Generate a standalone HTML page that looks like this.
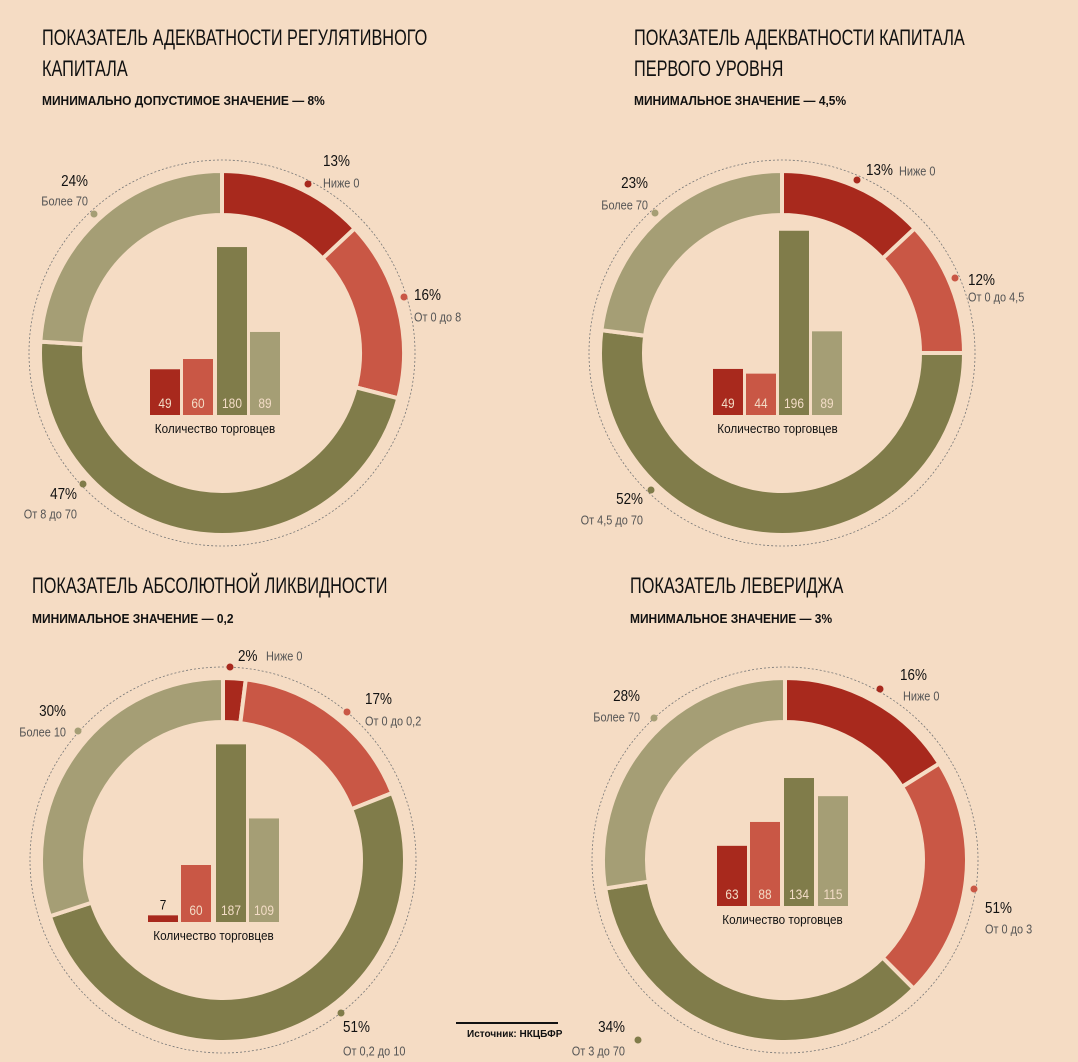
<!DOCTYPE html>
<html><head><meta charset="utf-8"><style>
html,body{margin:0;padding:0;background:#f5dcc4;}
svg{display:block;font-family:"Liberation Sans Narrow","Liberation Sans",sans-serif;}
.t{font-size:22px;font-weight:normal;fill:#111;}
.s{font-size:13px;font-weight:bold;fill:#111;}
.p{font-size:16px;fill:#111;}
.l{font-size:13px;fill:#555;}
.v{font-size:14px;fill:#f3dcc6;text-anchor:middle;}
.k{font-size:13px;fill:#111;text-anchor:middle;}
</style></head><body>
<svg id="svg" width="1078" height="1062" viewBox="0 0 1078 1062" xmlns="http://www.w3.org/2000/svg">
<rect width="1078" height="1062" fill="#f5dcc4"/>
<g id="rings"></g>
<text class="t" x="42" y="45">ПОКАЗАТЕЛЬ АДЕКВАТНОСТИ РЕГУЛЯТИВНОГО</text>
<text class="t" x="42" y="76">КАПИТАЛА</text>
<text class="s" x="42" y="105">МИНИМАЛЬНО ДОПУСТИМОЕ ЗНАЧЕНИЕ —  8%</text>
<text class="t" x="634" y="45">ПОКАЗАТЕЛЬ АДЕКВАТНОСТИ КАПИТАЛА</text>
<text class="t" x="634" y="76">ПЕРВОГО УРОВНЯ</text>
<text class="s" x="634" y="105">МИНИМАЛЬНОЕ ЗНАЧЕНИЕ — 4,5%</text>
<text class="t" x="32" y="593">ПОКАЗАТЕЛЬ АБСОЛЮТНОЙ ЛИКВИДНОСТИ</text>
<text class="s" x="32" y="623">МИНИМАЛЬНОЕ ЗНАЧЕНИЕ — 0,2</text>
<text class="t" x="630" y="593">ПОКАЗАТЕЛЬ ЛЕВЕРИДЖА</text>
<text class="s" x="630" y="623">МИНИМАЛЬНОЕ ЗНАЧЕНИЕ — 3%</text>

<g dominant-baseline="middle">
<text class="p" x="323" y="162">13%</text><text class="l" x="323" y="184">Ниже 0</text>
<text class="p" x="414" y="296">16%</text><text class="l" x="414" y="318">От 0 до 8</text>
<text class="p" x="88" y="182" text-anchor="end">24%</text><text class="l" x="88" y="202" text-anchor="end">Более 70</text>
<text class="p" x="77" y="495" text-anchor="end">47%</text><text class="l" x="77" y="515" text-anchor="end">От 8 до 70</text>

<text class="p" x="866" y="171">13%</text><text class="l" x="899" y="172">Ниже 0</text>
<text class="p" x="968" y="281">12%</text><text class="l" x="968" y="298">От 0 до 4,5</text>
<text class="p" x="648" y="184" text-anchor="end">23%</text><text class="l" x="648" y="206" text-anchor="end">Более 70</text>
<text class="p" x="643" y="500" text-anchor="end">52%</text><text class="l" x="643" y="521" text-anchor="end">От 4,5 до 70</text>

<text class="p" x="238" y="657">2%</text><text class="l" x="266" y="657">Ниже 0</text>
<text class="p" x="365" y="700">17%</text><text class="l" x="365" y="722">От 0 до 0,2</text>
<text class="p" x="66" y="712" text-anchor="end">30%</text><text class="l" x="66" y="733" text-anchor="end">Более 10</text>
<text class="p" x="343" y="1028">51%</text><text class="l" x="343" y="1052">От 0,2 до 10</text>

<text class="p" x="900" y="676">16%</text><text class="l" x="903" y="697">Ниже 0</text>
<text class="p" x="985" y="909">51%</text><text class="l" x="985" y="930">От 0 до 3</text>
<text class="p" x="640" y="697" text-anchor="end">28%</text><text class="l" x="640" y="718" text-anchor="end">Более 70</text>
<text class="p" x="625" y="1028" text-anchor="end">34%</text><text class="l" x="625" y="1052" text-anchor="end">От 3 до 70</text>
</g>
<g id="bars"></g>
<line x1="456" y1="1023" x2="558" y2="1023" stroke="#111" stroke-width="2"/>
<text class="src" x="467" y="1037" style="font-size:10px;font-weight:bold" fill="#111">Источник: НКЦБФР</text>
</svg>
<script>
var C=["#a8291d","#c95745","#807c4a","#a59e75"],BG="#f5dcc4",NS="http://www.w3.org/2000/svg";
var rings=document.getElementById("rings"),bars=document.getElementById("bars");
function el(p,n,a,t){var e=document.createElementNS(NS,n);for(var k in a)e.setAttribute(k,a[k]);if(t!=null)e.textContent=t;p.appendChild(e);return e;}
function pt(cx,cy,r,a){a=a*Math.PI/180;return [cx+r*Math.sin(a),cy-r*Math.cos(a)];}
function seg(cx,cy,R,r,a0,a1){var l=(a1-a0)>180?1:0,p1=pt(cx,cy,R,a0),p2=pt(cx,cy,R,a1),p3=pt(cx,cy,r,a1),p4=pt(cx,cy,r,a0);
return "M"+p1+"A"+R+","+R+" 0 "+l+" 1 "+p2+"L"+p3+"A"+r+","+r+" 0 "+l+" 0 "+p4+"Z";}
var charts=[
{cx:222,cy:353,pc:[13,16,47,24],dots:[[308,184],[404,297],[94,214],[83,484]],bx:[150,183,217,250],by:415,vals:[49,60,180,89],sc:0.933},
{cx:782,cy:353,pc:[13,12,52,23],dots:[[857,180],[955,278],[655,213],[651,490]],bx:[713,746,779,812],by:415,vals:[49,44,196,89],sc:0.94},
{cx:223,cy:860,pc:[2,17,51,30],dots:[[230,667],[347,712],[78,731],[341,1013]],bx:[148,181,216,249],by:922,vals:[7,60,187,109],sc:0.95},
{cx:785,cy:860,ang:[0,58,135,261,360],dots:[[880,689],[974,889],[654,718],[638,1040]],bx:[717,750,784,818],by:906,vals:[63,88,134,115],sc:0.955}];
charts.forEach(function(c){
 var R=182,r=138,ang=c.ang;
 if(!ang){ang=[0];var s=0;c.pc.forEach(function(p){s+=p;ang.push(s*3.6);});ang[4]=360;}
 el(rings,"circle",{cx:c.cx,cy:c.cy,r:193,fill:"none",stroke:"#777","stroke-width":0.8,"stroke-dasharray":"2,2"});
 for(var i=0;i<4;i++) el(rings,"path",{d:seg(c.cx,c.cy,R,r,ang[i],ang[i+1]),fill:C[i],stroke:BG,"stroke-width":4});
 var di=[0,1,3,2];
 c.dots.forEach(function(d,i){el(rings,"circle",{cx:d[0],cy:d[1],r:3.5,fill:C[di[i]]});});
 c.vals.forEach(function(v,i){var h=v*c.sc;el(bars,"rect",{x:c.bx[i],y:c.by-h,width:30,height:h,fill:C[i]});
  if(h<20) el(bars,"text",{class:"v",x:c.bx[i]+15,y:c.by-h-6,style:"fill:#111"},v);
  else el(bars,"text",{class:"v",x:c.bx[i]+15,y:c.by-7},v);});
 el(bars,"text",{class:"k",x:(c.bx[0]+c.bx[3]+30)/2,y:c.by+18},"Количество торговцев");
});
var F={t:0.74,s:0.92,p:0.84,l:0.84,v:0.85,k:0.9,src:1};
document.querySelectorAll("text").forEach(function(t){
 var f=F[t.getAttribute("class")]||0.85;
 var w=t.getComputedTextLength();
 if(f<1&&w>0){t.setAttribute("textLength",(w*f).toFixed(1));t.setAttribute("lengthAdjust","spacingAndGlyphs");}
});
</script>
</body></html>
